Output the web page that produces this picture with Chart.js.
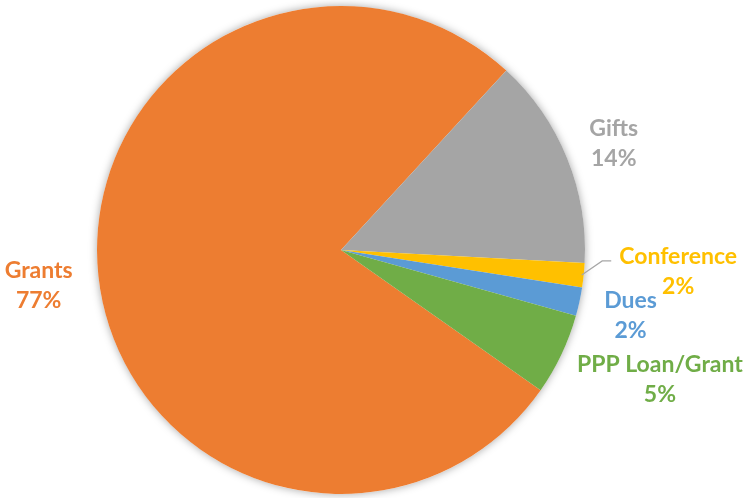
<!DOCTYPE html>
<html lang="en">
<head>
    <meta charset="UTF-8">
    <title>Revenue sources</title>
    <script src="https://cdn.jsdelivr.net/npm/chart.js"></script>
    <style>
        html, body {
            margin: 0;
            padding: 0;
            background: #ffffff;
        }

        canvas {
            display: block;
        }
    </style>
</head>
<body>

    <canvas id="grafico" width="750" height="498"></canvas>

    <script>
        // dados (percentuais)
        const categorias = ["Grants", "Gifts", "Conference", "Dues", "PPP Loan/Grant"];
        const valores = [77.1, 14.0, 1.6, 1.9, 5.4];
        const cores = ["#ED7D31", "#A5A5A5", "#FFC000", "#5B9BD5", "#70AD47"];

        const fonte = "bold 23px Lato, 'Open Sans', sans-serif";
        const alturaLinha = 30;

        // sombra suave so na borda externa da pizza
        const sombraPizza = {
            id: 'sombraPizza',
            beforeDatasetsDraw(chart) {
                const arc = chart.getDatasetMeta(0).data[0];
                if (!arc) return;
                const ctx = chart.ctx;
                ctx.save();
                ctx.shadowColor = 'rgba(0,0,0,0.35)';
                ctx.shadowBlur = 9;
                ctx.fillStyle = '#ffffff';
                ctx.beginPath();
                ctx.arc(arc.x, arc.y, arc.outerRadius, 0, Math.PI * 2);
                ctx.fill();
                ctx.restore();
            }
        };

        // rotulos fora da fatia, estilo Excel
        const rotulos = {
            id: 'rotulos',
            afterDatasetsDraw(chart) {
                const ctx = chart.ctx;
                const meta = chart.getDatasetMeta(0);
                const total = valores.reduce((a, b) => a + b, 0);
                ctx.save();
                ctx.font = fonte;

                let caixas = meta.data.map((arc, i) => {
                    const meio = (arc.startAngle + arc.endAngle) / 2;
                    const dx = Math.cos(meio), dy = Math.sin(meio);
                    const linhas = [categorias[i], Math.round(valores[i] / total * 100) + '%'];
                    const w = Math.max(...linhas.map(t => ctx.measureText(t).width));
                    const h = 44;
                    const dist = arc.outerRadius + 26;
                    const px = arc.x + dx * dist, py = arc.y + dy * dist;
                    return {
                        i, linhas, w, h, dx, dy, arc, meio,
                        cx: px + dx * w / 2,
                        cy: py + dy * h / 2 + 4,
                        movido: false
                    };
                });

                // evita sobreposicao no lado direito
                const direita = caixas.filter(c => c.dx > 0).sort((a, b) => b.cy - a.cy);
                for (let k = 1; k < direita.length; k++) {
                    const abaixo = direita[k - 1], atual = direita[k];
                    const topo = abaixo.cy - abaixo.h / 2;
                    if (atual.cy + atual.h / 2 > topo) {
                        atual.cy = topo - atual.h / 2;
                        atual.cx += 10;
                        atual.movido = true;
                    }
                }

                caixas.forEach(c => {
                    const y1 = c.cy - alturaLinha / 2;
                    const y2 = c.cy + alturaLinha / 2;
                    if (c.movido) {
                        const esq = c.cx - ctx.measureText(c.linhas[0]).width / 2;
                        const ax = c.arc.x + Math.cos(c.meio) * (c.arc.outerRadius - 2);
                        const ay = c.arc.y + Math.sin(c.meio) * (c.arc.outerRadius - 2);
                        ctx.strokeStyle = '#A6A6A6';
                        ctx.lineWidth = 1.2;
                        ctx.beginPath();
                        ctx.moveTo(ax, ay);
                        ctx.lineTo(esq - 17, y1 + 4);
                        ctx.lineTo(esq - 8, y1 + 4);
                        ctx.stroke();
                    }
                    ctx.fillStyle = cores[c.i];
                    ctx.textAlign = 'center';
                    ctx.textBaseline = 'middle';
                    ctx.fillText(c.linhas[0], c.cx, y1);
                    ctx.fillText(c.linhas[1], c.cx, y2);
                });
                ctx.restore();
            }
        };

        const ctx = document.getElementById('grafico');

        let grafico = new Chart(ctx, {
            type: 'pie',
            data: {
                labels: categorias,
                datasets: [{
                    data: valores,
                    backgroundColor: cores,
                    borderWidth: 0
                }]
            },
            options: {
                responsive: false,
                animation: false,
                rotation: 125.1,
                layout: {
                    padding: { left: 0, right: 68, top: 6, bottom: 4 }
                },
                plugins: {
                    legend: { display: false },
                    tooltip: { enabled: false }
                }
            },
            plugins: [sombraPizza, rotulos]
        });
    </script>
</body>
</html>
